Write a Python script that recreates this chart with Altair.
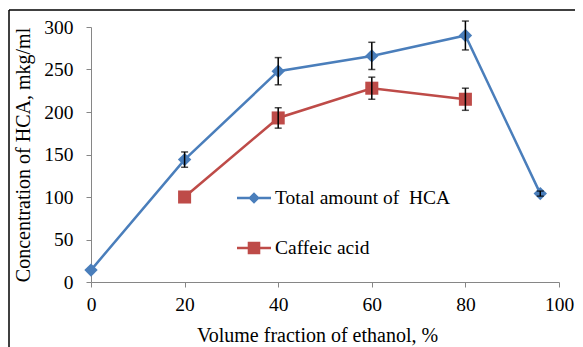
import altair as alt
import pandas as pd

# ---- data ----
total_x = [0, 20, 40, 60, 80, 96]
total_y = [14, 144, 248, 266, 290, 104]
total_err = [0, 9, 16, 16, 17, 3]

caf_x = [20, 40, 60, 80]
caf_y = [100, 193, 228, 215]
caf_err = [0, 12, 13, 13]

series_names = ["Total amount of \u00a0HCA", "Caffeic acid"]
series_colors = ["#4A7EBB", "#BE4B48"]
legend_paths = [
    "M-1,-0.08L1,-0.08L1,0.08L-1,0.08Z M0,-0.34L0.34,0L0,0.34L-0.34,0Z",
    "M-1,-0.08L1,-0.08L1,0.08L-1,0.08Z M-0.37,-0.37L0.37,-0.37L0.37,0.37L-0.37,0.37Z",
]

rows = []
for x, y, e in zip(total_x, total_y, total_err):
    rows.append({"series": series_names[0], "x": x, "y": y, "lo": y - e, "hi": y + e, "e": e})
for x, y, e in zip(caf_x, caf_y, caf_err):
    rows.append({"series": series_names[1], "x": x, "y": y, "lo": y - e, "hi": y + e, "e": e})
df = pd.DataFrame(rows)

FONT = "Liberation Serif"
LABEL_SIZE = 19.5
TITLE_SIZE = 20
YTITLE = "Concentration of HCA, mkg/ml"

xscale = alt.Scale(domain=[0, 100], nice=False)
yscale = alt.Scale(domain=[0, 300], nice=False)
cscale = alt.Scale(domain=series_names, range=series_colors)

xaxis = alt.Axis(values=[0, 20, 40, 60, 80, 100], title="Volume fraction of ethanol, %",
                 titleX=226, titleY=59, titleBaseline="alphabetic", titleAlign="center",
                 labelPadding=8, labelFont=FONT, titleFont=FONT)
yaxis = alt.Axis(values=[0, 50, 100, 150, 200, 250, 300], title=YTITLE,
                 titleX=-62, titleY=127.5, titleAngle=-90, titleBaseline="alphabetic",
                 titleAlign="center", labelPadding=13, labelFont=FONT, titleFont=FONT)

leg = alt.Legend(title=None, orient="none", legendX=146, legendY=154,
                 symbolSize=1156, labelFont=FONT, labelFontSize=LABEL_SIZE, labelLimit=400,
                 labelColor="black", labelOffset=4, rowPadding=23,
                 padding=0, symbolStrokeWidth=0, symbolOpacity=1)

X = alt.X("x:Q", scale=xscale, axis=xaxis)
Y = alt.Y("y:Q", scale=yscale, axis=yaxis, title=YTITLE)
C = alt.Color("series:N", scale=cscale, legend=leg)

base = alt.Chart(df)

lines = base.mark_line(strokeWidth=2.5).encode(x=X, y=Y, color=C, detail="series:N")

pts_total = base.transform_filter(alt.datum.series == series_names[0]).mark_point(
    shape="diamond", filled=True, size=180, opacity=1).encode(x=X, y=Y, color=C)
pts_caf = base.transform_filter(alt.datum.series == series_names[1]).mark_point(
    shape="square", filled=True, size=170, opacity=1).encode(x=X, y=Y, color=C)

err = base.transform_filter(alt.datum.e > 0).mark_errorbar(
    ticks={"size": 7, "color": "black", "thickness": 1.5},
    rule={"strokeWidth": 1.5, "color": "black"},
    color="black").encode(x=X, y=alt.Y("lo:Q", scale=yscale, axis=yaxis, title=YTITLE), y2="hi:Q")

legend_layer = base.mark_point(filled=True, opacity=0, size=0).encode(
    x=X, y=Y, color=C,
    shape=alt.Shape("series:N", scale=alt.Scale(domain=series_names, range=legend_paths), legend=leg),
)

deco = alt.Chart(alt.Data(values=[{}]))
left_border = deco.mark_rule(color="black", strokeWidth=1.5).encode(
    x=alt.value(-82), y=alt.value(-17), y2=alt.value(360))
top_border = deco.mark_rule(color="black", strokeWidth=1.5).encode(
    x=alt.value(-82), x2=alt.value(600), y=alt.value(-17))

chart = alt.layer(lines, pts_total, pts_caf, err, legend_layer, left_border, top_border).properties(
    width=468, height=255,
    autosize=alt.AutoSizeParams(type="none"),
    padding={"left": 83, "top": 19, "right": 16, "bottom": 75},
).configure_view(stroke=None).configure_axis(
    grid=False, domainColor="#868686", tickColor="#868686", tickSize=5,
    labelFont=FONT, labelFontSize=LABEL_SIZE, labelColor="black",
    titleFont=FONT, titleFontSize=TITLE_SIZE, titleColor="black", titleFontWeight="normal",
    labelFlush=False,
)

chart.save("out.html", embed_options={"renderer": "svg", "actions": False})
